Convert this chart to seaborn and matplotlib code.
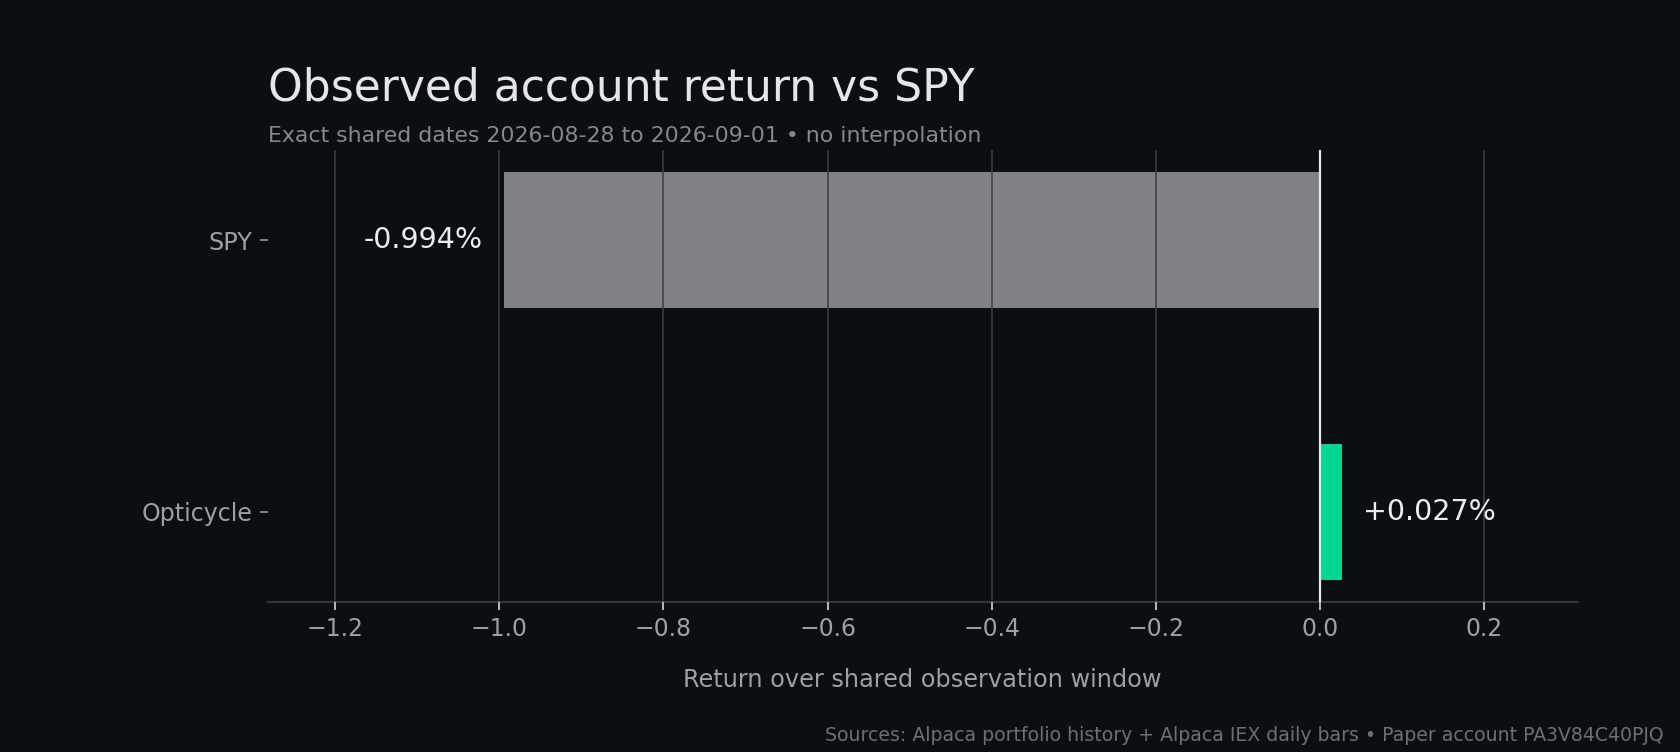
import pandas as pd
import seaborn as sns
import matplotlib.pyplot as plt

# data
names = ['SPY', 'Opticycle']
returns = [-0.994, 0.027]
labels = ['-0.994%', '+0.027%']
colors = ['#808285', '#00d68f']

BG = '#0b0e13'
df = pd.DataFrame({'name': names, 'ret': returns})

sns.set_theme(style='dark')
plt.rcParams['font.family'] = ['DejaVu Sans']

fig = plt.figure(figsize=(10.5, 4.7), dpi=160, facecolor=BG)
ax = fig.add_axes([0.1595, 0.20, 0.7795, 0.60])
ax.set_facecolor(BG)

sns.barplot(data=df, x='ret', y='name', hue='name', palette=colors,
            orient='h', width=0.5, legend=False, ax=ax, saturation=1,
            linewidth=0, edgecolor='none')

ax.set_axisbelow(False)
ax.grid(axis='x', color='#3c3f44', lw=0.7)
ax.grid(axis='y', visible=False)
ax.axvline(0, color='#e8e8e8', lw=1.0, zorder=5)

for c, lab in zip(ax.containers, labels):
    ax.bar_label(c, labels=[lab], padding=9.5, color='#ececec', fontsize=12.8)

ax.set_xlim(-1.282, 0.314)
ax.set_ylim(1.33, -0.33)

for s in ['top', 'right', 'left']:
    ax.spines[s].set_visible(False)
ax.spines['bottom'].set_color('#30363d')
ax.spines['bottom'].set_linewidth(0.9)

ax.tick_params(axis='x', colors='#9da1a6', labelsize=10.6, length=3.5, width=0.8,
               bottom=True)
ax.tick_params(axis='x', color='#c8c8c8')
ax.tick_params(axis='y', colors='#9da1a6', labelsize=10.7, length=3.5, width=0.8,
               left=True)
ax.tick_params(axis='y', color='#8b8f94')

ax.set_ylabel('')
ax.set_xlabel('Return over shared observation window', color='#9da1a6',
              fontsize=10.8, labelpad=12)

fig.text(0.1595, 0.867, 'Observed account return vs SPY', color='#e6e6e6',
         fontsize=19.8, va='baseline', ha='left')
fig.text(0.1595, 0.8116, 'Exact shared dates 2026-08-28 to 2026-09-01 \u2022 no interpolation',
         color='#85898e', fontsize=9.9, va='baseline', ha='left')
fig.text(0.99, 0.015, 'Sources: Alpaca portfolio history + Alpaca IEX daily bars \u2022 Paper account PA3V84C40PJQ',
         color='#6b7075', fontsize=8.5, va='baseline', ha='right')

fig.savefig('out.png', dpi=160, facecolor=BG)
